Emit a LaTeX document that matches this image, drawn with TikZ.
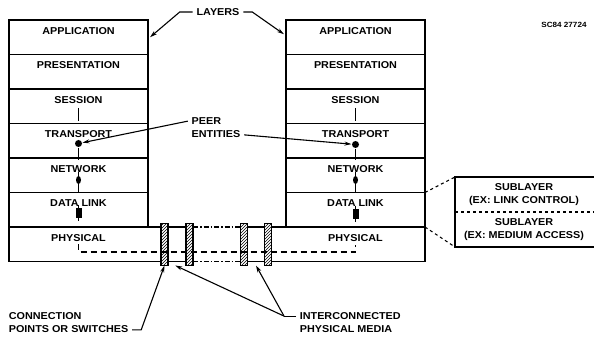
\documentclass[tikz,border=0pt]{standalone}
\usepackage{fontspec}
\setmainfont{Liberation Sans}[FakeStretch=1.08]
\usetikzlibrary{arrows.meta,positioning,calc,patterns,shapes.geometric}

\begin{document}
\begin{tikzpicture}[x=1pt,y=-1pt,line width=1.1pt,
  font=\bfseries\fontsize{10}{13}\selectfont,
  layer/.style={draw,minimum width=139pt,minimum height=34.5pt,inner sep=0pt,outer sep=0pt,text height=7.5pt,text depth=13pt},
  bare/.style={layer,draw=none},
  subbox/.style={minimum width=138pt,minimum height=35pt,inner sep=0pt,outer sep=0pt,align=center},
  switch/.style={draw,line width=1.4pt,pattern=north east lines,minimum width=7pt,minimum height=42pt,inner sep=0pt,outer sep=0pt},
  dot/.style={circle,fill,inner sep=0pt,minimum size=7pt},
  pin/.style={ellipse,fill,inner sep=0pt,minimum width=5pt,minimum height=8pt},
  plug/.style={rectangle,fill,inner sep=0pt,minimum width=6pt,minimum height=9pt},
  tip/.style={-{Stealth[length=7pt,width=4pt]}},
  media/.style={dash pattern=on 5pt off 2pt on 1.5pt off 2pt},
  signal/.style={dash pattern=on 6pt off 4pt}]
  \useasboundingbox (0,0) rectangle (594,339);
  \clip (0,0) rectangle (594,339);

  \node[layer,anchor=north west] (appL) at (9,20) {APPLICATION};
  \node[layer] (preL) [below=0pt of appL] {PRESENTATION};
  \node[layer] (sesL) [below=0pt of preL] {SESSION};
  \node[layer] (traL) [below=0pt of sesL] {TRANSPORT};
  \node[layer] (netL) [below=0pt of traL] {NETWORK};
  \node[layer] (dllL) [below=0pt of netL] {DATA LINK};
  \node[bare]  (phyL) [below=0pt of dllL] {PHYSICAL};

  \node[layer,anchor=north west] (appR) at (286,20) {APPLICATION};
  \node[layer] (preR) [below=0pt of appR] {PRESENTATION};
  \node[layer] (sesR) [below=0pt of preR] {SESSION};
  \node[layer] (traR) [below=0pt of sesR] {TRANSPORT};
  \node[layer] (netR) [below=0pt of traR] {NETWORK};
  \node[layer] (dllR) [below=0pt of netR] {DATA LINK};
  \node[bare]  (phyR) [below=0pt of dllR] {PHYSICAL};

  \node[switch] (sw1) at (164.5,244.5) {};
  \node[switch] (sw2) at (189.5,244.5) {};
  \node[switch] (sw3) at (244,244.5) {};
  \node[switch] (sw4) at (268,244.5) {};

  \draw (sw1.west |- phyL.north) -- (phyL.north west) -- (phyL.south west) -- (sw1.west |- phyL.south);
  \draw (sw4.east |- phyR.north) -- (phyR.north east) -- (phyR.south east) -- (sw4.east |- phyR.south);
  \draw (sw1.east |- phyL.north) -- (sw2.west |- phyL.north)
        (sw1.east |- phyL.south) -- (sw2.west |- phyL.south)
        (sw3.east |- phyL.north) -- (sw4.west |- phyL.north)
        (sw3.east |- phyL.south) -- (sw4.west |- phyL.south);
  \draw[media] (sw2.east |- phyL.north) -- (sw3.west |- phyL.north)
               (sw2.east |- phyL.south) -- (sw3.west |- phyL.south);
  \draw[signal] ([yshift=-17pt]phyL.north) |- ([yshift=-25pt]phyR.north) -- ([yshift=-18pt]phyR.north);

  \node[dot]  (peerL) at ([yshift=-20pt]traL.north) {};
  \node[pin]  (pinL)  at ([yshift=-22pt]netL.north) {};
  \node[plug] (plugL) at ([yshift=-20.5pt]dllL.north) {};
  \node[dot]  (peerR) at ([yshift=-21pt]traR.north) {};
  \node[pin]  (pinR)  at ([yshift=-22pt]netR.north) {};
  \node[plug] (plugR) at ([yshift=-21.5pt]dllR.north) {};

  \draw ([yshift=-19pt]sesL.north) -- ([yshift=2pt]sesL.south)
        (peerL) -- ([yshift=-2pt]traL.south)
        ([yshift=3pt]pinL.north) -- ([yshift=-1pt]netL.south)
        ([yshift=3pt]plugL.north) -- ([yshift=-3pt]plugL.south);
  \draw ([yshift=-19pt]sesR.north) -- ([yshift=2pt]sesR.south)
        (peerR) -- ([yshift=-2pt]traR.south)
        ([yshift=3pt]pinR.north) -- ([yshift=-1pt]netR.south)
        ([yshift=3pt]plugR.north) -- ([yshift=-3pt]plugR.south);

  \node[subbox,anchor=north west] (subA) at (455,177) {SUBLAYER\\(EX: LINK CONTROL)};
  \node[subbox] (subB) [below=0pt of subA] {SUBLAYER\\(EX: MEDIUM ACCESS)};
  \draw ([xshift=8pt]subB.south east) -- (subB.south west) -- (subA.north west) -- ([xshift=8pt]subA.north east);
  \draw[dashed] (subA.south west) -- ([xshift=8pt]subA.south east);
  \draw[dashed] (dllR.north east) -- (subA.north west)
                (phyR.north east) -- (subB.south west);

  \node (layers) at (218,12) {LAYERS};
  \draw[tip] (layers.west) -- ++(-13,0) -- ([xshift=2pt]appL.east);
  \draw[tip] (layers.east) -- ++(9,0) -- ([xshift=-2pt,yshift=3pt]appR.west);

  \node[align=left] (peer) at (216,128) {PEER\\ENTITIES};
  \draw[tip] ([yshift=-7pt]peer.north west) -- (peerL);
  \draw[tip] ([yshift=7pt]peer.south east) -- (peerR);

  \node[align=left,anchor=west] (conn) at (5,323) {CONNECTION\\POINTS OR SWITCHES};
  \draw[tip] ([yshift=7pt]conn.south east) -- ++(9,0) -- (sw1.south);

  \node[align=left,anchor=west] (phys) at (296,323) {INTERCONNECTED\\PHYSICAL MEDIA};
  \coordinate (fork) at ([xshift=-12pt,yshift=-7pt]phys.north west);
  \coordinate (m1) at ($(sw1.south east)!0.4!(sw2.south west)$);
  \coordinate (m2) at ($(sw3.south east)!0.5!(sw4.south west)$);
  \draw ([yshift=-7pt]phys.north west) -- (fork);
  \draw[tip] (fork) -- (m1);
  \draw[tip] (fork) -- (m2);

  \node[font=\bfseries\fontsize{7.5}{9}\selectfont] (code) at (564,25) {SC84 27724};
\end{tikzpicture}
\end{document}
